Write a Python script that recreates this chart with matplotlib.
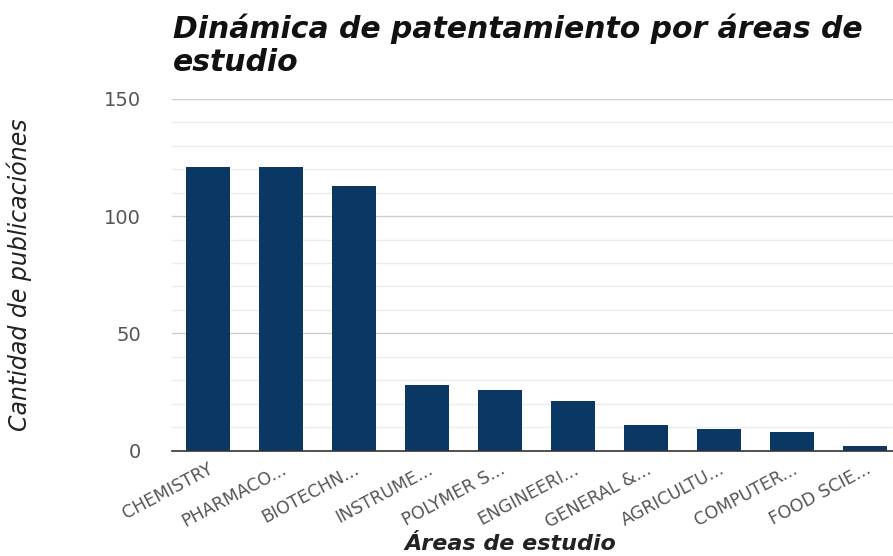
import matplotlib
matplotlib.use("Agg")
import matplotlib.pyplot as plt
from matplotlib.ticker import MultipleLocator

categories = ["CHEMISTRY", "PHARMACO...", "BIOTECHN...", "INSTRUME...", "POLYMER S...",
              "ENGINEERI...", "GENERAL &...", "AGRICULTU...", "COMPUTER...", "FOOD SCIE..."]
values = [121, 121, 113, 28, 26, 21, 11, 9, 8, 2]
yticks = [0, 50, 100, 150]

fig = plt.figure(figsize=(8.93, 5.56), dpi=100)
ax = fig.add_axes([171.5 / 893, 1 - 450.5 / 556, 730 / 893, (450.5 - 99) / 556])

x = list(range(len(categories)))
ax.bar(x, values, width=0.59, color="#0b3764", zorder=3)
ax.set_xlim(-0.5, len(categories) - 0.5)
ax.set_ylim(0, 150)
ax.set_yticks(yticks)
ax.yaxis.set_minor_locator(MultipleLocator(10))
ax.grid(axis="y", which="major", color="#cccccc", linewidth=1, zorder=0)
ax.grid(axis="y", which="minor", color="#ececec", linewidth=1, zorder=0)
for s in ["top", "right", "left"]:
    ax.spines[s].set_visible(False)
ax.spines["bottom"].set_color("#333333")
ax.spines["bottom"].set_linewidth(1.2)
ax.spines["bottom"].set_zorder(4)
ax.tick_params(axis="y", which="both", length=0, pad=22, labelsize=14, labelcolor="#555555")
ax.tick_params(axis="x", length=0, pad=7)
ax.set_xticks(x)
ax.set_xticklabels(categories, rotation=28, ha="right", rotation_mode="anchor",
                   fontsize=12.5, color="#555555")

ax.set_xlabel("Áreas de estudio", fontsize=16, fontstyle="italic", fontweight="bold",
              color="#222222")
ax.set_ylabel("Cantidad de publicaciónes", fontsize=17, fontstyle="italic",
              color="#222222")
ax.yaxis.set_label_coords(-(171.5 - 32) / 730, 0.5)
ax.xaxis.set_label_coords((510 - 171.5) / 730, -(544 - 450.5) / 351.5)
ax.xaxis.label.set_va("center")

fig.text(173 / 893, 1 - 13 / 556,
         "Dinámica de patentamiento por áreas de\nestudio",
         fontsize=21.5, fontstyle="italic", fontweight="bold", color="#111111",
         ha="left", va="top", linespacing=1.18)

fig.savefig("out.png", dpi=100)
